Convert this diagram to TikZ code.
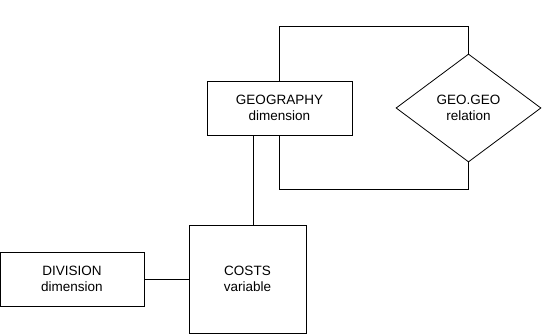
\documentclass[tikz,border=0pt]{standalone}
\usepackage{fontspec}
\setmainfont{Liberation Sans}
\usepackage{tikz}
\usetikzlibrary{shapes.geometric,positioning,calc}

\begin{document}
\begin{tikzpicture}[
  x=1pt,
  y=1pt,
  font=\fontsize{13.5}{16}\selectfont,
  link/.style={line width=0.8pt, draw=black},
  entity/.style={rectangle, draw=black, line width=0.8pt, fill=white,
    align=center, inner sep=0pt, minimum width=145pt, minimum height=54pt},
  varbox/.style={entity, minimum width=117pt, minimum height=108pt},
  relation/.style={diamond, draw=black, line width=0.8pt, fill=white,
    align=center, inner sep=0pt, minimum width=145pt, minimum height=108pt}
]
\useasboundingbox (0,0) rectangle (558,334);

% Dimension with its self relation on the right.
\node[entity] (geo) at (279.5,226) {GEOGRAPHY\\dimension};
\node[relation] (rel) at (468.5,226) {GEO.GEO\\relation};
\draw[link] (geo.north) -- ++(0,54) -| (rel.north);
\draw[link] (geo.south) -- ++(0,-54) -| (rel.south);

% Variable and the second dimension.
\node[varbox] (costs) at (247.5,55) {COSTS\\variable};
\node[entity, minimum width=144pt] (div) at (72,55) {DIVISION\\dimension};
\draw[link] ([xshift=-26.5pt]geo.south) -- ([xshift=-26.5pt]geo.south |- costs.north);
\draw[link] (div) -- (costs);

\end{tikzpicture}
\end{document}
